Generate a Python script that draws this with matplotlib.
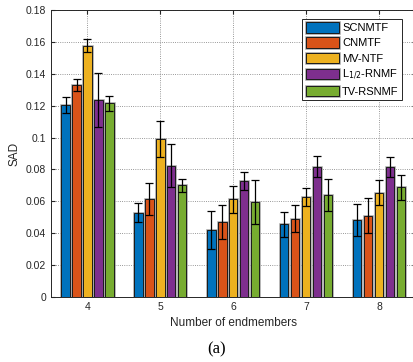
import numpy as np
import matplotlib
matplotlib.use('Agg')
import matplotlib.pyplot as plt
import matplotlib.patheffects as pe

plt.rcParams['font.family'] = ['Liberation Sans', 'DejaVu Sans']

endmembers = [4, 5, 6, 7, 8]
methods = ['SCNMTF', 'CNMTF', 'MV-NTF', 'L$_{1/2}$-RNMF', 'TV-RSNMF']
colors = ['#0072BD', '#D95319', '#EDB120', '#7E2F8E', '#77AC30']

scnmtf = [0.1206, 0.0529, 0.0420, 0.0456, 0.0483]
cnmtf = [0.1330, 0.0613, 0.0470, 0.0491, 0.0510]
mvntf = [0.1576, 0.0989, 0.0613, 0.0625, 0.0654]
l12rnmf = [0.1237, 0.0824, 0.0726, 0.0817, 0.0813]
tvrsnmf = [0.1215, 0.0702, 0.0596, 0.0642, 0.0688]

scnmtf_err = [0.0050, 0.0060, 0.0122, 0.0077, 0.0100]
cnmtf_err = [0.0039, 0.0100, 0.0106, 0.0084, 0.0108]
mvntf_err = [0.0040, 0.0113, 0.0085, 0.0057, 0.0077]
l12rnmf_err = [0.0168, 0.0133, 0.0055, 0.0066, 0.0062]
tvrsnmf_err = [0.0046, 0.0041, 0.0138, 0.0100, 0.0077]

values = [scnmtf, cnmtf, mvntf, l12rnmf, tvrsnmf]
errors = [scnmtf_err, cnmtf_err, mvntf_err, l12rnmf_err, tvrsnmf_err]

fig = plt.figure(figsize=(4.13, 3.62), dpi=100)
ax = fig.add_axes([51/413, 65/362, 364.5/413, 287/362])

x = np.array(endmembers, dtype=float)
offsets = [-0.3, -0.15, 0.0, 0.15, 0.3]
halo = [pe.Stroke(linewidth=1.8, foreground='#a0a0a0'), pe.Normal()]
for k in range(5):
    bars = ax.bar(x + offsets[k], values[k], width=0.115, color=colors[k],
                  edgecolor='#1a1a1a', linewidth=0.7, label=methods[k], zorder=3)
    for b in bars:
        b.set_path_effects(halo)
    ax.errorbar(x + offsets[k], values[k], yerr=errors[k], fmt='none',
                ecolor='black', elinewidth=0.9, capsize=3.2, capthick=0.9, zorder=4)

ax.set_xlim(3.5, 8.5)
ax.set_ylim(0, 0.18)
ax.set_xticks(endmembers)
yt = np.arange(0, 0.181, 0.02)
ax.set_yticks(yt)
ax.set_yticklabels(['0', '0.02', '0.04', '0.06', '0.08', '0.1', '0.12', '0.14', '0.16', '0.18'])
ax.tick_params(direction='in', length=3, labelsize=7.5, top=True, right=True, colors='#262626')
ax.grid(True, linestyle=':', color='#777777', linewidth=0.6, zorder=0)
ax.set_axisbelow(True)
for s in ax.spines.values():
    s.set_color('#262626')
    s.set_linewidth(0.7)

ax.set_xlabel('Number of endmembers', fontsize=8.5, color='#262626', labelpad=4)
ax.set_ylabel('SAD', fontsize=8.5, color='#262626', labelpad=4)

leg = ax.legend(loc='upper right', bbox_to_anchor=((402 - 51)/364.5, 1 - 9/287), bbox_transform=ax.transAxes,
                fontsize=8, fancybox=False, framealpha=1, edgecolor='#262626',
                handlelength=3.0, handleheight=1.05, handletextpad=0.3, labelspacing=0.38,
                borderpad=0.3, borderaxespad=0)
leg.get_frame().set_linewidth(0.7)

fig.text(217/413, 1 - 349/362, '(a)', fontsize=12, family='Liberation Serif', ha='center', va='center')

plt.savefig('out.png', dpi=100)
